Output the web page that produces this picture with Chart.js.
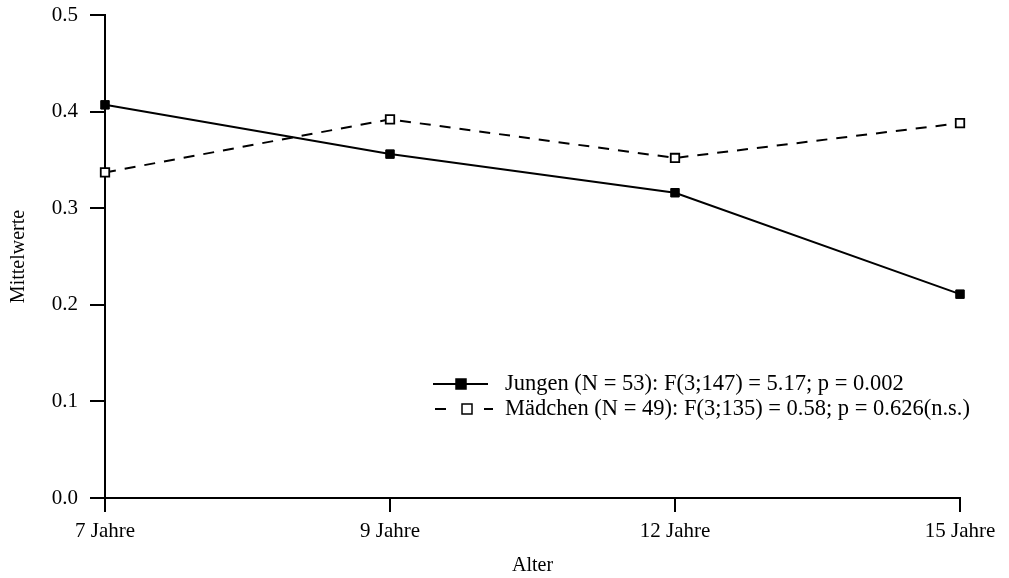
<!DOCTYPE html>
<html>
<head>
<meta charset="utf-8">
<script src="https://cdn.jsdelivr.net/npm/chart.js@4/dist/chart.umd.min.js"></script>
<style>
  html, body { margin: 0; padding: 0; background: #fff; }
  #wrap { width: 1009px; height: 578px; }
</style>
</head>
<body>
<div id="wrap"><canvas id="line-chart"></canvas></div>
<script>
const labels = ["7 Jahre", "9 Jahre", "12 Jahre", "15 Jahre"];
const jungen = [0.407, 0.356, 0.316, 0.211];
const maedchen = [0.337, 0.392, 0.352, 0.388];
const legendLabels = [
  "Jungen (N = 53): F(3;147) = 5.17; p = 0.002",
  "Mädchen (N = 49): F(3;135) = 0.58; p = 0.626(n.s.)"
];
const yTicks = [0, 0.1, 0.2, 0.3, 0.4, 0.5];

const serif = "'Liberation Serif', 'DejaVu Serif', serif";

// legend drawn inside the plot, lower right
const innerLegend = {
  id: 'innerLegend',
  afterDraw(chart) {
    const ctx = chart.ctx;
    const tx = 505;
    const rows = [384, 409];
    chart.data.datasets.forEach((ds, i) => {
      const y = rows[i];
      ctx.save();
      ctx.strokeStyle = '#000';
      ctx.lineWidth = 2;
      ctx.beginPath();
      let mx;
      if (ds.borderDash) {
        ctx.moveTo(435, y); ctx.lineTo(446, y);
        ctx.moveTo(484, y); ctx.lineTo(493, y);
        mx = 467;
      } else {
        ctx.moveTo(433, y); ctx.lineTo(488, y);
        mx = 461;
      }
      ctx.stroke();
      ctx.lineWidth = 1.5;
      ctx.fillStyle = ds.pointBackgroundColor;
      ctx.fillRect(mx - 5, y - 5, 10, 10);
      ctx.strokeRect(mx - 5, y - 5, 10, 10);
      ctx.fillStyle = '#000';
      ctx.font = '22.5px ' + serif;
      ctx.textBaseline = 'middle';
      ctx.textAlign = 'left';
      ctx.fillText(legendLabels[i], tx, y);
      ctx.restore();
    });
  }
};

new Chart(document.getElementById("line-chart"), {
  type: 'line',
  data: {
    labels: labels,
    datasets: [
      {
        label: "Jungen",
        data: jungen,
        borderColor: "#000",
        borderWidth: 2,
        pointStyle: 'rect',
        pointRadius: 6,
        pointBackgroundColor: "#000",
        pointBorderColor: "#000",
        pointBorderWidth: 1,
        tension: 0
      }, {
        label: "Mädchen",
        data: maedchen,
        borderColor: "#000",
        borderWidth: 2,
        borderDash: [11, 9],
        pointStyle: 'rect',
        pointRadius: 6,
        pointBackgroundColor: "#fff",
        pointBorderColor: "#000",
        pointBorderWidth: 1.8,
        tension: 0
      }
    ]
  },
  options: {
    responsive: true,
    maintainAspectRatio: false,
    animation: false,
    layout: { padding: { top: 15, right: 49, left: 0, bottom: 0 } },
    plugins: {
      legend: { display: false },
      tooltip: { enabled: false }
    },
    scales: {
      x: {
        offset: false,
        grid: { display: true, drawOnChartArea: false, drawTicks: true, tickLength: 14, color: '#000', lineWidth: 2 },
        border: { display: true, color: '#000', width: 2 },
        ticks: { color: '#000', font: { family: serif, size: 21 }, padding: 7, maxRotation: 0, autoSkip: false },
        title: { display: true, text: 'Alter', color: '#000', font: { family: serif, size: 20 }, padding: { top: 4, bottom: 0 } },
        afterFit(scale) { scale.height = 80; }
      },
      y: {
        min: 0,
        max: 0.5,
        afterBuildTicks(scale) { scale.ticks = yTicks.map(v => ({ value: v })); },
        grid: { display: true, drawOnChartArea: false, drawTicks: true, tickLength: 15, color: '#000', lineWidth: 2 },
        border: { display: true, color: '#000', width: 2 },
        ticks: { color: '#000', font: { family: serif, size: 21 }, padding: 12, callback: v => v.toFixed(1) },
        title: { display: true, text: 'Mittelwerte', color: '#000', font: { family: serif, size: 20 }, padding: { top: 7, bottom: 4 } },
        afterFit(scale) { scale.width = 105; scale.paddingTop = 0; scale.paddingBottom = 0; }
      }
    }
  },
  plugins: [innerLegend]
});
</script>
</body>
</html>
